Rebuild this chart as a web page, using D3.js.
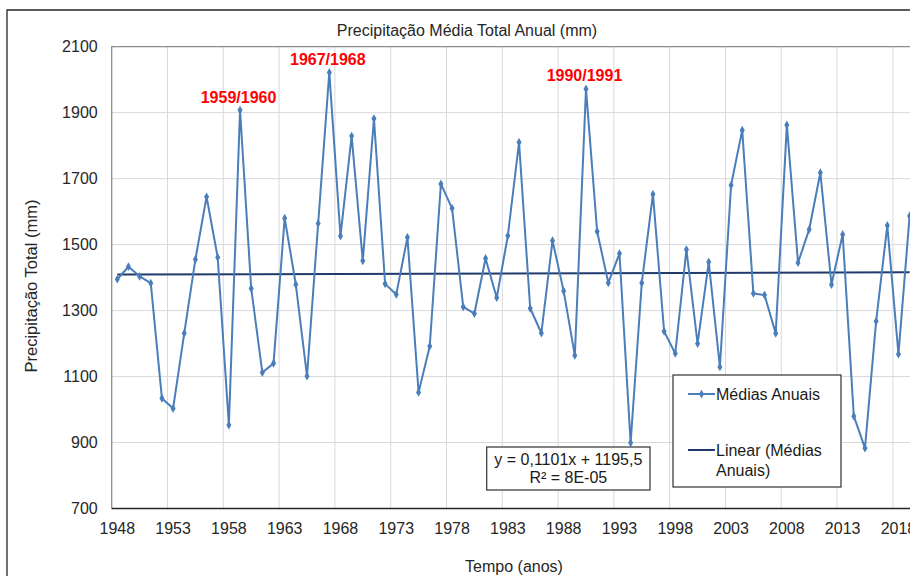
<!DOCTYPE html>
<html>
<head>
<meta charset="utf-8">
<script src="https://cdn.jsdelivr.net/npm/d3@7"></script>
<style>
  html, body { margin: 0; padding: 0; background: #fff; }
  svg { display: block; font-family: "Liberation Sans", Arial, sans-serif; }
</style>
</head>
<body>
<svg id="chart" width="910" height="576"></svg>
<script>
// ---- data ----
const years = [1948,1949,1950,1951,1952,1953,1954,1955,1956,1957,1958,1959,1960,1961,1962,1963,1964,1965,1966,1967,
  1968,1969,1970,1971,1972,1973,1974,1975,1976,1977,1978,1979,1980,1981,1982,1983,1984,1985,1986,1987,
  1988,1989,1990,1991,1992,1993,1994,1995,1996,1997,1998,1999,2000,2001,2002,2003,2004,2005,2006,2007,
  2008,2009,2010,2011,2012,2013,2014,2015,2016,2017,2018,2019];
const mediasAnuais = [1395,1433,1404,1383,1034,1003,1231,1455,1645,1461,953,1908,1367,1112,1140,1580,1379,1101,1564,2022,
  1526,1829,1451,1882,1381,1349,1522,1052,1192,1684,1610,1311,1291,1458,1339,1527,1810,1307,1232,1512,
  1359,1164,1972,1540,1384,1473,899,1384,1653,1237,1170,1485,1200,1447,1129,1680,1847,1352,1347,1231,
  1863,1445,1546,1718,1379,1531,980,883,1268,1558,1168,1587];
const yTicks = [700, 900, 1100, 1300, 1500, 1700, 1900, 2100];
const xTickYears = [1948,1953,1958,1963,1968,1973,1978,1983,1988,1993,1998,2003,2008,2013,2018];
const highlightLabels = ["1959/1960", "1967/1968", "1990/1991"];
const highlightYears = [1959, 1967, 1990];
const titleText = "Precipitação Média Total Anual (mm)";
const yTitle = "Precipitação Total (mm)";
const xTitle = "Tempo (anos)";
const legendLabels = ["Médias Anuais", "Linear (Médias", "Anuais)"];
const equationLines = ["y = 0,1101x + 1195,5", "R² = 8E-05"];

// ---- layout ----
const svg = d3.select("#chart");
const plotL = 111.7, plotR = 915.2, plotT = 46.7, plotB = 508.5;
const seriesColor = "#4A7EBB";
const trendColor = "#1F3A6B";

const x = d3.scaleBand().domain(years).range([plotL, plotR]).paddingInner(0).paddingOuter(0);
const xc = yr => x(yr) + x.bandwidth() / 2;
const y = d3.scaleLinear().domain([700, 2100]).range([plotB, plotT]);

// outer chart border
svg.append("path")
  .attr("d", `M7,576 L7,10 L910,10`)
  .attr("fill", "none").attr("stroke", "#262626").attr("stroke-width", 1.3);

// gridlines
const grid = svg.append("g");
grid.selectAll("line.h").data(yTicks.filter(v => v !== 700 && v !== 2100)).join("line")
  .attr("x1", plotL).attr("x2", plotR)
  .attr("y1", d => y(d)).attr("y2", d => y(d))
  .attr("stroke", "#d9d9d9").attr("stroke-width", 1);
grid.selectAll("line.v").data(xTickYears.slice(1)).join("line")
  .attr("x1", d => x(d)).attr("x2", d => x(d))
  .attr("y1", plotT).attr("y2", plotB)
  .attr("stroke", "#d9d9d9").attr("stroke-width", 1);

// plot frame (top & left grey)
svg.append("path")
  .attr("d", `M${plotL},${plotB} L${plotL},${plotT} L${plotR},${plotT}`)
  .attr("fill", "none").attr("stroke", "#8c8c8c").attr("stroke-width", 1.3);

// axes
const yAxis = svg.append("g")
  .attr("transform", `translate(${plotL},0)`)
  .call(d3.axisLeft(y).tickValues(yTicks).tickSize(0).tickPadding(14).tickFormat(d3.format("d")));
yAxis.select(".domain").remove();
yAxis.selectAll("text").attr("font-size", 16).attr("fill", "#262626")
  .attr("font-family", "Liberation Sans, Arial, sans-serif");

const xAxis = svg.append("g")
  .attr("transform", `translate(0,${plotB})`)
  .call(d3.axisBottom(x).tickValues(xTickYears).tickSize(0).tickPadding(14.5).tickFormat(d3.format("d")));
xAxis.select(".domain").remove();
xAxis.selectAll("text").attr("font-size", 16).attr("fill", "#262626")
  .attr("font-family", "Liberation Sans, Arial, sans-serif");

// bottom axis line
svg.append("line")
  .attr("x1", plotL).attr("x2", plotR).attr("y1", plotB).attr("y2", plotB)
  .attr("stroke", "#262626").attr("stroke-width", 1.5);

// trend line (least squares on index)
const n = mediasAnuais.length;
const idx = d3.range(1, n + 1);
const mx = d3.mean(idx), my = d3.mean(mediasAnuais);
const slope = d3.sum(idx, (t, i) => (t - mx) * (mediasAnuais[i] - my)) / d3.sum(idx, t => (t - mx) * (t - mx));
const icpt = my - slope * mx;
svg.append("line")
  .attr("x1", xc(years[0])).attr("x2", xc(years[n - 1]))
  .attr("y1", y(icpt + slope * 1)).attr("y2", y(icpt + slope * n))
  .attr("stroke", trendColor).attr("stroke-width", 2);

// series
const line = d3.line().x((d, i) => xc(years[i])).y(d => y(d));
svg.append("path").datum(mediasAnuais)
  .attr("d", line).attr("fill", "none")
  .attr("stroke", seriesColor).attr("stroke-width", 2).attr("stroke-linejoin", "round");
const diamond = d3.symbol().type(d3.symbolDiamond).size(22);
svg.append("g").selectAll("path").data(mediasAnuais).join("path")
  .attr("d", diamond)
  .attr("transform", (d, i) => `translate(${xc(years[i])},${y(d)})`)
  .attr("fill", seriesColor);

// highlight labels
svg.append("g").selectAll("text").data(highlightYears).join("text")
  .attr("x", d => xc(d) - 1.5)
  .attr("y", d => y(mediasAnuais[years.indexOf(d)]) - 7.5)
  .attr("text-anchor", "middle")
  .attr("font-size", 16).attr("font-weight", "bold").attr("fill", "#FF0000")
  .text((d, i) => highlightLabels[i]);

// title
svg.append("text").attr("x", 467).attr("y", 35.5).attr("text-anchor", "middle")
  .attr("font-size", 16).attr("fill", "#262626").text(titleText);

// axis titles
svg.append("text").attr("transform", "translate(36.5,286) rotate(-90)")
  .attr("text-anchor", "middle").attr("font-size", 16.5).attr("fill", "#262626").text(yTitle);
svg.append("text").attr("x", 514).attr("y", 572).attr("text-anchor", "middle")
  .attr("font-size", 16).attr("fill", "#262626").text(xTitle);

// equation box
svg.append("rect").attr("x", 486.7).attr("y", 447).attr("width", 163.3).attr("height", 43)
  .attr("fill", "#fff").attr("stroke", "#404040").attr("stroke-width", 1.3);
svg.append("g").selectAll("text").data(equationLines).join("text")
  .attr("x", 568.3).attr("y", (d, i) => 465 + i * 18)
  .attr("text-anchor", "middle").attr("font-size", 16).attr("fill", "#1a1a1a")
  .text(d => d);

// legend
const lg = svg.append("g");
lg.append("rect").attr("x", 673).attr("y", 375).attr("width", 168).attr("height", 112)
  .attr("fill", "#fff").attr("stroke", "#404040").attr("stroke-width", 1.3);
lg.append("line").attr("x1", 688).attr("x2", 715).attr("y1", 394).attr("y2", 394)
  .attr("stroke", seriesColor).attr("stroke-width", 2);
lg.append("path").attr("d", diamond).attr("transform", "translate(701.5,394)").attr("fill", seriesColor);
lg.append("text").attr("x", 716).attr("y", 399.5).attr("font-size", 16).attr("fill", "#1a1a1a").text(legendLabels[0]);
lg.append("line").attr("x1", 688).attr("x2", 715).attr("y1", 450).attr("y2", 450)
  .attr("stroke", trendColor).attr("stroke-width", 2);
lg.append("text").attr("x", 716).attr("y", 455.5).attr("font-size", 16).attr("fill", "#1a1a1a").text(legendLabels[1]);
lg.append("text").attr("x", 716).attr("y", 475.5).attr("font-size", 16).attr("fill", "#1a1a1a").text(legendLabels[2]);
</script>
</body>
</html>
